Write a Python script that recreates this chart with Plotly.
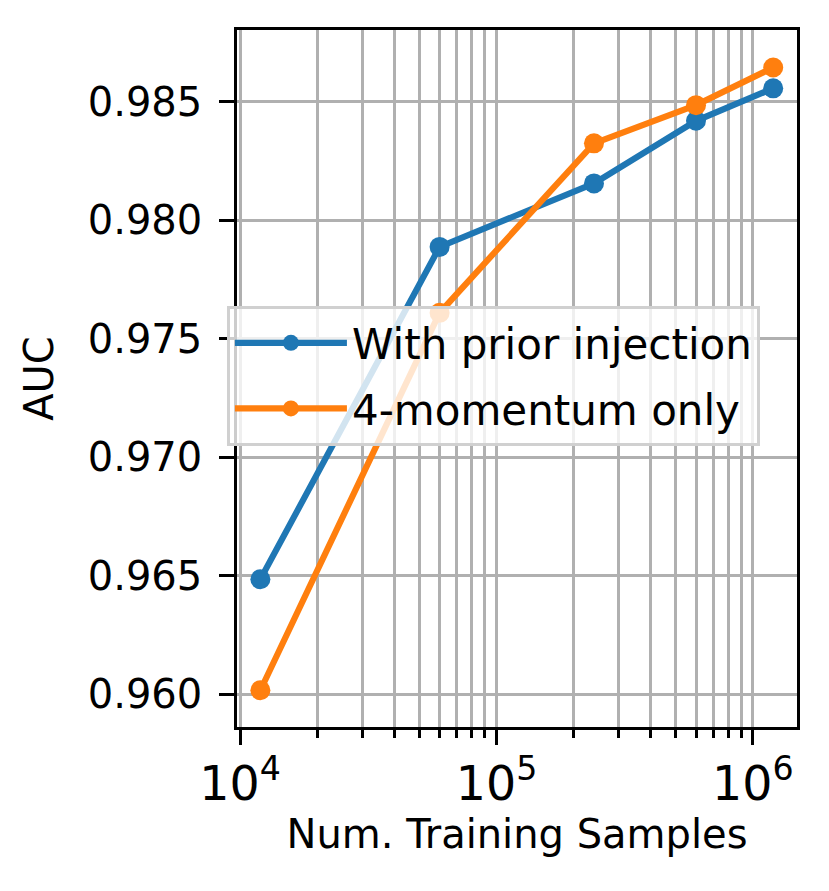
import plotly.graph_objects as go

# data
train_samples = [12000, 60000, 240000, 600000, 1200000]
auc_prior = [0.96485, 0.97887, 0.98155, 0.98419, 0.98556]
auc_4mom = [0.96017, 0.97609, 0.98324, 0.98485, 0.98644]

series_names = ["With prior injection", "4-momentum only"]
series_colors = ["#1f77b4", "#ff7f0e"]
y_ticks = [0.960, 0.965, 0.970, 0.975, 0.980, 0.985]

FONT = "DejaVu Sans"
GRID = "#b0b0b0"

fig = go.Figure()
for i, (name, vals, col) in enumerate(zip(series_names, [auc_prior, auc_4mom], series_colors)):
    fig.add_trace(go.Scatter(
        x=train_samples, y=vals, name=name, mode="lines+markers",
        line=dict(color=col, width=6.2),
        marker=dict(color=col, size=20),
        legendgroup=f"g{i}",
    ))

# page body has an 8px margin, so the figure is shrunk by that much
fig.update_layout(
    width=821, height=883,
    margin=dict(l=229, r=32, t=22, b=164),
    paper_bgcolor="white", plot_bgcolor="white",
    font=dict(family=FONT, size=40, color="black"),
    showlegend=True,
    legend=dict(
        x=-0.018, y=0.604, xanchor="left", yanchor="top",
        bgcolor="rgba(255,255,255,0.8)", bordercolor="#d0d0d0", borderwidth=3,
        font=dict(family=FONT, size=42, color="black"),
        tracegroupgap=8, itemwidth=112,
    ),
)

fig.update_xaxes(
    type="log", range=[3.988, 6.172],
    dtick=1, exponentformat="power",
    showline=True, mirror=True, linecolor="black", linewidth=3.3,
    ticks="outside", ticklen=14.6, tickwidth=3.3, tickcolor="black",
    showgrid=True, gridcolor=GRID, gridwidth=3.3,
    zeroline=False, tickfont=dict(size=38),
    minor=dict(dtick="D1", ticks="outside", ticklen=8.3, tickwidth=2.5,
               tickcolor="black", showgrid=True, gridcolor=GRID, gridwidth=2.5),
    title=dict(text="Num. Training Samples", font=dict(size=40), standoff=4),
)
fig.update_yaxes(
    range=[0.95862, 0.98802],
    tickvals=y_ticks, ticktext=[f"{v:.3f}" for v in y_ticks],
    showline=True, mirror=True, linecolor="black", linewidth=3.3,
    ticks="outside", ticklen=14.6, tickwidth=3.3, tickcolor="black",
    showgrid=True, gridcolor=GRID, gridwidth=3.3,
    zeroline=False, ticklabelstandoff=9,
    title=dict(text="AUC", font=dict(size=40), standoff=22),
)

fig.write_html("out.html")
